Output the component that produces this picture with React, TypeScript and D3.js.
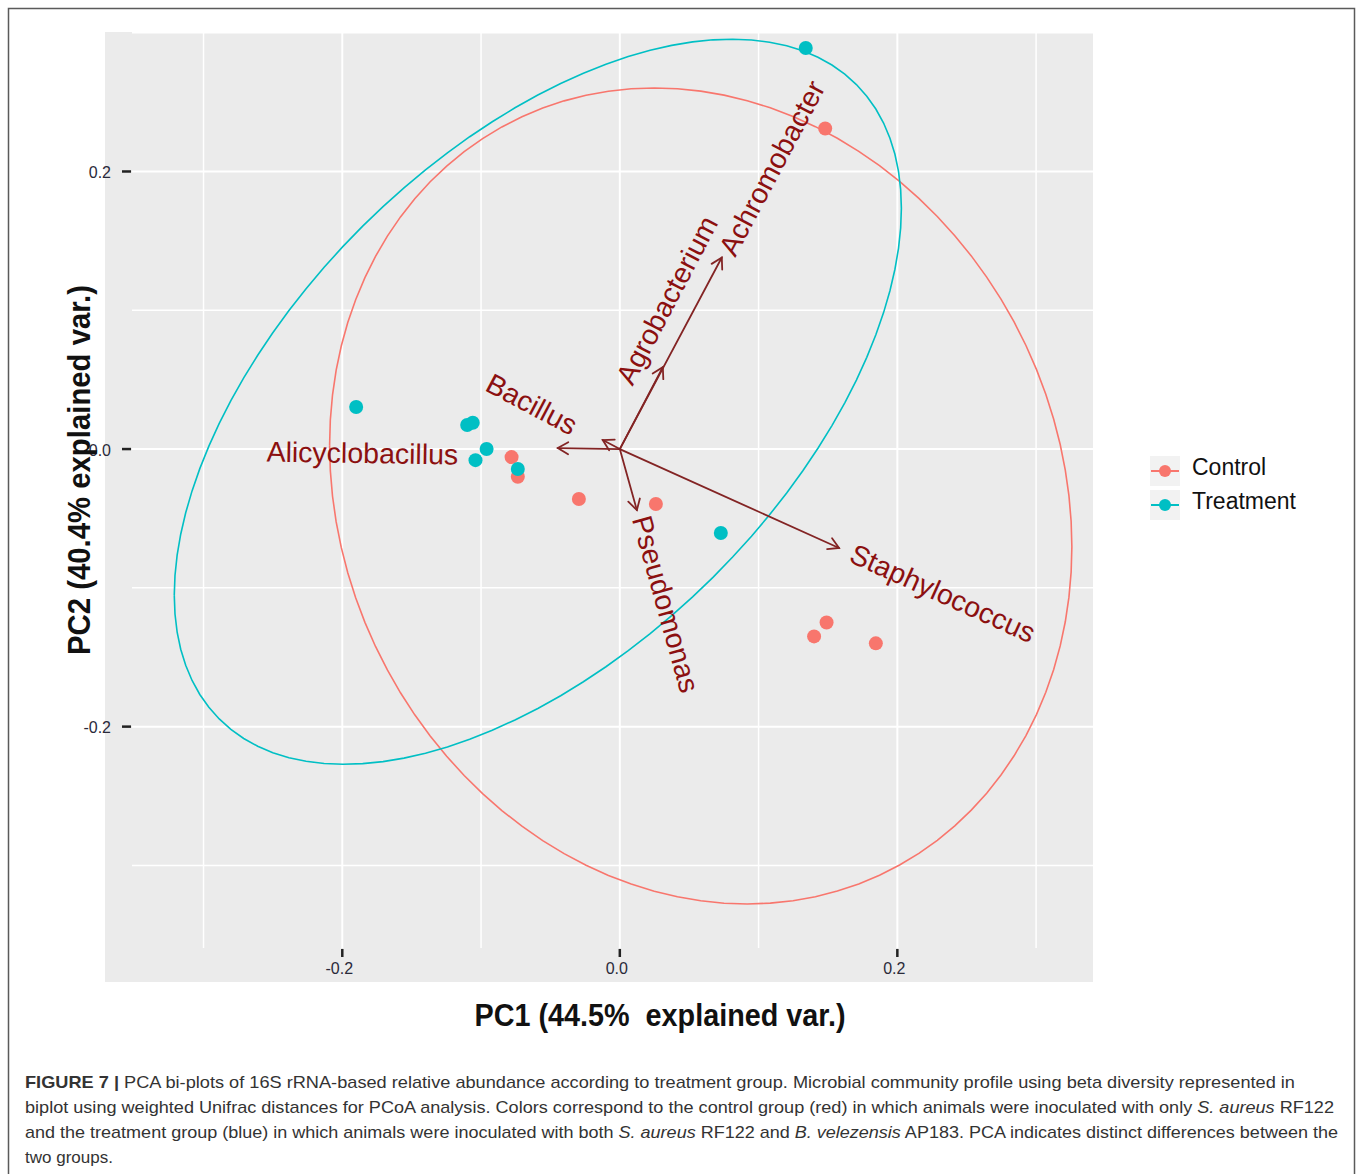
import * as d3 from "d3"

// group scores (PC1 / PC2)
const groups = ["Control", "Treatment"]
const groupColors = ["#F8766D", "#00BFC4"]

const controlPC1 = [0.148, -0.078, -0.0735, -0.0295, 0.026, 0.149, 0.140, 0.1845]
const controlPC2 = [0.231, -0.0058, -0.020, -0.036, -0.0396, -0.125, -0.135, -0.140]
const treatmentPC1 = [0.134, -0.190, -0.110, -0.106, -0.096, -0.104, -0.0735, 0.0728]
const treatmentPC2 = [0.289, 0.0303, 0.0173, 0.019, 0.0, -0.008, -0.0144, -0.0605]

// variable loadings (arrows) and where their labels sit
const taxa = ["Alicyclobacillus", "Bacillus", "Agrobacterium", "Achromobacter", "Pseudomonas", "Staphylococcus"]
const loadingPC1 = [-0.0447, -0.0123, 0.031, 0.0735, 0.0123, 0.158]
const loadingPC2 = [0.0007, 0.0065, 0.059, 0.138, -0.044, -0.0713]
const labelPC1 = [-0.1855, -0.0634, 0.0339, 0.1095, 0.0332, 0.2328]
const labelPC2 = [-0.0029, 0.0324, 0.1074, 0.2025, -0.1117, -0.1038]

const majorTicks = [-0.2, 0.0, 0.2]
const minorTicks = [-0.3, -0.1, 0.1, 0.3]

const ellipseProb = 0.95

const captionLines = [
  [{ t: "FIGURE 7 |", b: true }, { t: " PCA bi-plots of 16S rRNA-based relative abundance according to treatment group. Microbial community profile using beta diversity represented in" }],
  [{ t: "biplot using weighted Unifrac distances for PCoA analysis. Colors correspond to the control group (red) in which animals were inoculated with only " }, { t: "S. aureus", i: true }, { t: " RF122" }],
  [{ t: "and the treatment group (blue) in which animals were inoculated with both " }, { t: "S. aureus", i: true }, { t: " RF122 and " }, { t: "B. velezensis", i: true }, { t: " AP183. PCA indicates distinct differences between the" }],
  [{ t: "two groups." }],
]
const captionWidths = [1270, 1309, 1313, 0]

// same idea as ggbiplot: mean + chol(cov) * circle * sqrt(qchisq(p, 2))
function ellipsePoints(xs: number[], ys: number[]) {
  const n = xs.length
  const mx = d3.mean(xs) as number
  const my = d3.mean(ys) as number
  let sxx = 0, syy = 0, sxy = 0
  for (let i = 0; i < n; i++) {
    sxx += (xs[i] - mx) ** 2
    syy += (ys[i] - my) ** 2
    sxy += (xs[i] - mx) * (ys[i] - my)
  }
  sxx /= n - 1; syy /= n - 1; sxy /= n - 1
  const a = Math.sqrt(sxx)
  const b = sxy / a
  const c = Math.sqrt(syy - b * b)
  const ed = Math.sqrt(-2 * Math.log(1 - ellipseProb))
  return d3.range(0, 101).map(k => {
    const t = -Math.PI + (2 * Math.PI * k) / 100
    const u = Math.cos(t), v = Math.sin(t)
    return [mx + ed * a * u, my + ed * (b * u + c * v)] as [number, number]
  })
}

export default function App() {
  const W = 1357, H = 1174
  const x = d3.scaleLinear().domain([-0.371, 0.341]).range([105, 1093])
  const y = d3.scaleLinear().domain([-0.384, 0.3005]).range([982, 32])
  const panelLeft = 132, panelBottom = 948

  const line = d3.line<[number, number]>().x(d => x(d[0])).y(d => y(d[1]))

  const series = [
    { xs: controlPC1, ys: controlPC2 },
    { xs: treatmentPC1, ys: treatmentPC2 },
  ]

  const arrowColor = "#832424"
  const labelColor = "#8B1010"
  const fmt = (v: number) => d3.format(".1f")(v).replace("−", "-")

  return (
    <svg width={W} height={H} style={{ position: "absolute", left: 0, top: 0, background: "#fff" }}
      fontFamily="'Liberation Sans', Arial, sans-serif">
      <rect x={8.5} y={8.5} width={1346} height={1200} fill="none" stroke="#5a5a5a" strokeWidth={1.5} />

      {/* panel */}
      <rect x={x(-0.371)} y={y(0.3005)} width={x(0.341) - x(-0.371)} height={y(-0.384) - y(0.3005)} fill="#EBEBEB" />
      {minorTicks.concat(majorTicks).map(v => (
        <g key={"g" + v}>
          <line x1={x(v)} x2={x(v)} y1={y(0.3005)} y2={panelBottom} stroke="#fff" strokeWidth={majorTicks.includes(v) ? 2 : 1.5} />
          <line x1={panelLeft} x2={x(0.341)} y1={y(v)} y2={y(v)} stroke="#fff" strokeWidth={majorTicks.includes(v) ? 2 : 1.5} />
        </g>
      ))}

      {/* ticks */}
      {majorTicks.map(v => (
        <g key={"t" + v} fill="#2a2a3a" fontSize={16}>
          <line x1={x(v)} x2={x(v)} y1={panelBottom + 1} y2={panelBottom + 9} stroke="#222" strokeWidth={2.5} />
          <text x={x(v) - 3} y={968} textAnchor="middle" dominantBaseline="central">{fmt(v)}</text>
          <line x1={panelLeft - 10} x2={panelLeft - 1} y1={y(v)} y2={y(v)} stroke="#222" strokeWidth={2.5} />
          <text x={111} y={y(v) + 1} textAnchor="end" dominantBaseline="central">{fmt(v)}</text>
        </g>
      ))}

      {/* ellipses */}
      {series.map((s, i) => (
        <path key={"e" + i} d={line(ellipsePoints(s.xs, s.ys)) || ""} fill="none" stroke={groupColors[i]} strokeWidth={1.6} />
      ))}

      {/* points */}
      {series.map((s, i) => s.xs.map((v, j) => (
        <circle key={"p" + i + "-" + j} cx={x(v)} cy={y(s.ys[j])} r={7} fill={groupColors[i]} />
      )))}

      {/* loading arrows */}
      {taxa.map((name, i) => {
        const x0 = x(0), y0 = y(0)
        const x1 = x(loadingPC1[i]), y1 = y(loadingPC2[i])
        const ang = Math.atan2(y1 - y0, x1 - x0)
        const len = 12, spread = Math.PI / 6
        const h1 = [x1 - len * Math.cos(ang - spread), y1 - len * Math.sin(ang - spread)]
        const h2 = [x1 - len * Math.cos(ang + spread), y1 - len * Math.sin(ang + spread)]
        return (
          <g key={"a" + name} stroke={arrowColor} strokeWidth={1.8} fill="none" strokeLinecap="round">
            <line x1={x0} y1={y0} x2={x1} y2={y1} />
            <polyline points={`${h1[0]},${h1[1]} ${x1},${y1} ${h2[0]},${h2[1]}`} />
          </g>
        )
      })}
      {taxa.map((name, i) => {
        const deg = -(180 / Math.PI) * Math.atan(loadingPC2[i] / loadingPC1[i])
        return (
          <text key={"l" + name} transform={`translate(${x(labelPC1[i])},${y(labelPC2[i])}) rotate(${deg})`}
            textAnchor="middle" dominantBaseline="central" fontSize={28.5} fill={labelColor}>{name}</text>
        )
      })}

      {/* axis titles */}
      <text x={660} y={1026} textAnchor="middle" fontSize={31} fontWeight="bold" fill="#111"
        textLength={371} lengthAdjust="spacingAndGlyphs" style={{ whiteSpace: "pre" }}>PC1 (44.5%  explained var.)</text>
      <text transform="translate(90,470) rotate(-90)" textAnchor="middle" fontSize={31} fontWeight="bold" fill="#111"
        textLength={370} lengthAdjust="spacingAndGlyphs">PC2 (40.4% explained var.)</text>

      {/* legend */}
      {groups.map((g, i) => (
        <g key={"lg" + g} transform={`translate(1150,${456 + i * 34})`}>
          <rect width={30} height={30} fill="#F2F2F2" />
          <line x1={1} x2={29} y1={15} y2={15} stroke={groupColors[i]} strokeWidth={2} />
          <circle cx={15} cy={15} r={6} fill={groupColors[i]} />
          <text x={42} y={11} dominantBaseline="central" fontSize={23} fill="#111">{g}</text>
        </g>
      ))}

      {/* caption */}
      {captionLines.map((parts, i) => (
        <text key={"c" + i} x={25} y={1088 + i * 25} fontSize={17} fill="#333" style={{ whiteSpace: "pre" }}
          {...(captionWidths[i] ? { textLength: captionWidths[i], lengthAdjust: "spacingAndGlyphs" } : {})}>
          {parts.map((p: any, k) => (
            <tspan key={k} fontWeight={p.b ? "bold" : "normal"} fontStyle={p.i ? "italic" : "normal"}>{p.t}</tspan>
          ))}
        </text>
      ))}
    </svg>
  )
}
